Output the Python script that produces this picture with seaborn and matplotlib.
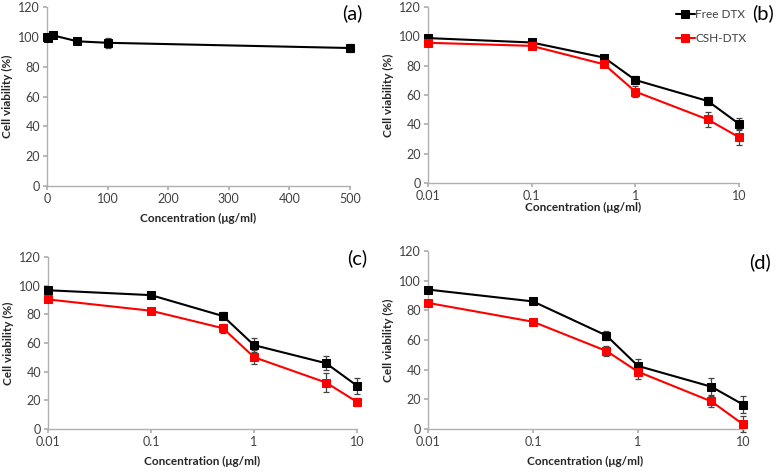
import numpy as np
import pandas as pd
import matplotlib
matplotlib.use("Agg")
import matplotlib.pyplot as plt
from matplotlib.ticker import FixedLocator, FixedFormatter, NullLocator
import seaborn as sns

# data
conc_a = [0, 1, 10, 50, 100, 500]
via_a = [100, 99, 101, 97, 96, 92.5]
err_a = [1.5, 1.5, 1.0, 2.0, 3.5, 2.5]

conc = [0.01, 0.1, 0.5, 1, 5, 10]
free_b = [98.8, 95.8, 85.5, 70.2, 55.9, 40.3]
free_b_err = [1.5, 1.5, 2.0, 2.5, 3.0, 4.0]
csh_b = [95.6, 93.5, 80.9, 62.3, 43.3, 31.2]
csh_b_err = [1.5, 2.0, 2.0, 4.0, 5.0, 5.5]

free_c = [96.8, 93.4, 78.8, 58.5, 45.9, 30.2]
free_c_err = [1.5, 1.5, 3.0, 5.0, 5.0, 5.5]
csh_c = [90.4, 82.5, 70.3, 50.1, 32.4, 18.9]
csh_c_err = [1.0, 1.0, 3.0, 5.0, 6.5, 3.0]

free_d = [94.0, 86.0, 63.0, 42.5, 28.5, 16.5]
free_d_err = [1.0, 1.0, 3.0, 5.0, 6.0, 5.5]
csh_d = [85.0, 72.3, 52.6, 38.6, 18.6, 3.2]
csh_d_err = [1.0, 1.0, 3.5, 5.0, 4.0, 5.5]

series_labels = ["Free DTX", "CSH-DTX"]
panel_labels = ["(a)", "(b)", "(c)", "(d)"]
log_ticks = [0.01, 0.1, 1, 10]
log_ticklabels = ["0.01", "0.1", "1", "10"]

sns.set_theme(style="white")
plt.rcParams['font.family'] = ['Lato', 'DejaVu Sans']

W, H = 778, 472
fig = plt.figure(figsize=(W / 100, H / 100), dpi=100)


def box(l, r, t, b):
    return [l / W, (H - b) / H, (r - l) / W, (b - t) / H]


spine_col = "#b0b0b0"
tick_col = "#404040"


def style_axes(ax):
    sns.despine(ax=ax)
    for s in ["left", "bottom"]:
        ax.spines[s].set_color(spine_col)
        ax.spines[s].set_linewidth(1.0)
    ax.set_ylim(0, 120)
    ax.set_yticks(range(0, 121, 20))
    ax.tick_params(axis="both", which="major", direction="out", length=3,
                   color=spine_col, labelsize=9, labelcolor=tick_col,
                   left=True, bottom=True, pad=2)
    ax.set_ylabel("Cell viability (%)", fontsize=8.5, fontweight="bold", labelpad=4)
    ax.set_xlabel("Concentration (μg/ml)", fontsize=8.5, fontweight="bold")


def draw(ax, x, y, e, color, label):
    df = pd.DataFrame({"x": x, "y": y})
    ax.errorbar(x, y, yerr=e, fmt="none", ecolor="#444444", elinewidth=0.9,
                capsize=2.5, capthick=0.9, zorder=2, clip_on=False)
    sns.lineplot(data=df, x="x", y="y", ax=ax, color=color, marker="s",
                 markersize=6, markeredgecolor=color, linewidth=1.5,
                 label=label, zorder=3, clip_on=False)


# (a)
ax_a = fig.add_axes(box(47, 350, 7, 186))
draw(ax_a, conc_a, via_a, err_a, "black", None)
ax_a.set_xlim(0, 500)
ax_a.set_xticks(range(0, 501, 100))
style_axes(ax_a)
ax_a.xaxis.labelpad = 6

panels = [
    (box(428, 739, 7, 183), free_b, free_b_err, csh_b, csh_b_err),
    (box(48, 357, 257, 429), free_c, free_c_err, csh_c, csh_c_err),
    (box(428, 743, 251, 429), free_d, free_d_err, csh_d, csh_d_err),
]
axes = [ax_a]
for i, (rect, f, fe, c, ce) in enumerate(panels):
    ax = fig.add_axes(rect)
    draw(ax, conc, f, fe, "black", series_labels[0])
    draw(ax, conc, c, ce, "#ff0000", series_labels[1])
    ax.set_xscale("log")
    ax.set_xlim(0.01, 10)
    ax.xaxis.set_major_locator(FixedLocator(log_ticks))
    ax.xaxis.set_major_formatter(FixedFormatter(log_ticklabels))
    ax.xaxis.set_minor_locator(NullLocator())
    style_axes(ax)
    if i == 0:
        ax.xaxis.labelpad = 0
        ax.legend(loc="upper left", bbox_to_anchor=((676 - 428) / 311, 0.99),
                  frameon=False, fontsize=8.5, handlelength=1.6,
                  handletextpad=0.05, labelspacing=1.1, labelcolor=tick_col,
                  borderaxespad=0, borderpad=0)
    else:
        ax.xaxis.labelpad = 6
        ax.get_legend().remove()
    axes.append(ax)

label_pos = [(352, 13), (763, 13), (357, 258), (760, 262)]
for lab, (px, py) in zip(panel_labels, label_pos):
    fig.text(px / W, 1 - py / H, lab, fontsize=14.5, ha="center", va="center",
             color="black")

fig.savefig("out.png", dpi=100)
